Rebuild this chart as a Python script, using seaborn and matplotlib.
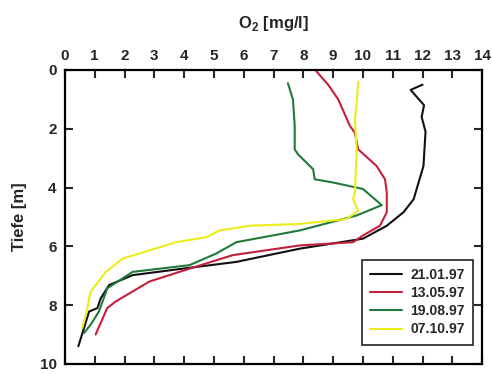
import matplotlib
matplotlib.use("Agg")
import matplotlib.pyplot as plt
import seaborn as sns
import pandas as pd

dates = ["21.01.97", "13.05.97", "19.08.97", "07.10.97"]
colors = ["#111111", "#c4203c", "#1f7a3c", "#ecec1a"]

o2_jan = [12.0, 11.6, 12.05, 11.97, 12.1, 12.03, 11.7, 11.36, 10.8, 10.0, 7.88, 5.75, 3.95, 2.27, 1.48, 1.2, 1.09, 0.81, 0.45]
depth_jan = [0.5, 0.68, 1.2, 1.6, 2.1, 3.27, 4.4, 4.84, 5.3, 5.74, 6.08, 6.53, 6.76, 6.98, 7.32, 7.77, 8.1, 8.22, 9.4]

o2_may = [8.44, 8.83, 9.17, 9.56, 9.73, 9.84, 10.46, 10.74, 10.8, 10.8, 10.57, 10.0, 9.67, 7.88, 5.63, 4.18, 2.83, 1.7, 1.42, 1.03]
depth_may = [0.05, 0.5, 1.0, 1.9, 2.14, 2.7, 3.27, 3.72, 4.17, 4.84, 5.3, 5.63, 5.86, 5.97, 6.3, 6.76, 7.2, 7.88, 8.1, 9.0]

o2_aug = [7.48, 7.65, 7.71, 7.71, 7.82, 8.33, 8.38, 9.0, 10.0, 10.63, 9.79, 7.88, 5.75, 5.07, 4.18, 2.27, 1.42, 1.14, 0.86, 0.64]
depth_aug = [0.45, 1.0, 1.9, 2.7, 2.87, 3.38, 3.72, 3.83, 4.05, 4.6, 4.95, 5.46, 5.86, 6.25, 6.64, 6.87, 7.43, 8.22, 8.67, 8.95]

o2_oct = [9.84, 9.79, 9.73, 9.79, 9.73, 9.67, 9.84, 9.45, 7.88, 6.2, 5.19, 4.74, 3.73, 1.93, 1.37, 0.86, 0.7, 0.58]
depth_oct = [0.4, 1.1, 1.7, 2.7, 4.17, 4.4, 4.79, 5.07, 5.24, 5.3, 5.46, 5.69, 5.86, 6.42, 6.87, 7.55, 8.33, 8.78]

frames = []
for d, xs, ys in zip(dates, [o2_jan, o2_may, o2_aug, o2_oct],
                     [depth_jan, depth_may, depth_aug, depth_oct]):
    frames.append(pd.DataFrame({"O2": xs, "Tiefe": ys, "Datum": d}))
df = pd.concat(frames, ignore_index=True)

sns.set_style("white")
plt.rcParams["font.family"] = ["Liberation Sans", "DejaVu Sans"]
plt.rcParams["mathtext.fontset"] = "custom"
plt.rcParams["mathtext.bf"] = "Liberation Sans:bold"
plt.rcParams["mathtext.rm"] = "Liberation Sans:bold"

fig = plt.figure(figsize=(4.92, 3.74), dpi=100)
ax = fig.add_axes([0.132, 0.027, 0.848, 0.786])

sns.lineplot(data=df, x="O2", y="Tiefe", hue="Datum", hue_order=dates,
             palette=colors, sort=False, estimator=None, linewidth=1.5, ax=ax)

ax.set_xlim(0, 14)
ax.set_ylim(10, 0)
ax.set_xticks(range(0, 15))
ax.set_yticks(range(0, 11, 2))
ax.xaxis.set_ticks_position("both")
ax.yaxis.set_ticks_position("both")
ax.tick_params(axis="both", direction="in", length=6, width=1.5,
               labelsize=11)
ax.tick_params(axis="x", labeltop=True, labelbottom=False, pad=5)
ax.tick_params(axis="y", pad=6)
for lab in ax.get_xticklabels() + ax.get_yticklabels():
    lab.set_fontweight("bold")
for s in ax.spines.values():
    s.set_linewidth(1.6)
    s.set_color("black")

ax.xaxis.set_label_position("top")
ax.set_xlabel(r"O$_\mathbf{2}$ [mg/l]", fontsize=12, fontweight="bold", labelpad=15)
ax.set_ylabel("Tiefe [m]", fontsize=12, fontweight="bold", labelpad=9)

leg = ax.legend(loc="lower right", bbox_to_anchor=(0.978, 0.065),
                prop={"weight": "bold", "size": 10}, frameon=True,
                fancybox=False, edgecolor="black", handlelength=2.3,
                borderpad=0.6, labelspacing=0.3, handletextpad=0.6,
                borderaxespad=0)
leg.get_frame().set_linewidth(1.3)

fig.savefig("out.png", dpi=100)
